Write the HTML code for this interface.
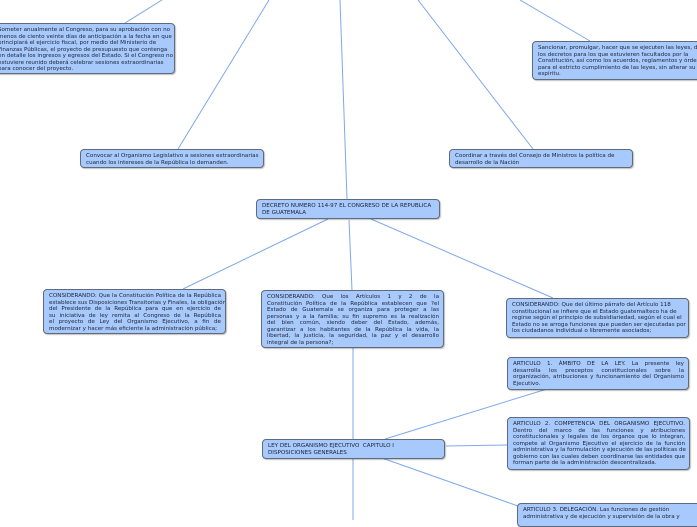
<!DOCTYPE html>
<html><head><meta charset="utf-8"><style>
body{margin:0;width:697px;height:520px;overflow:hidden;background:#fff;position:relative;font-family:"DejaVu Sans","Liberation Sans",sans-serif;}
.b{position:absolute;box-sizing:border-box;background:#a8c9fb;border:1px solid #5f6b7c;border-radius:4px;font-size:5.6px;line-height:6.5px;color:#1a2236;padding:3px 4px 2px 5px;overflow:hidden;box-shadow:1px 1px 1px rgba(0,0,0,0.25);white-space:nowrap;}
.b span{display:block;white-space:nowrap}
.j span{text-align:justify;text-align-last:justify}
.j span.l{text-align-last:left}
svg{position:absolute;left:0;top:0}
</style></head><body>
<svg width="697" height="520"><g stroke="#7ea8ea" stroke-width="1" fill="none">
<line x1="162" y1="0" x2="125" y2="23"/>
<line x1="269" y1="0" x2="178" y2="149"/>
<line x1="340" y1="0" x2="347" y2="199"/>
<line x1="418" y1="0" x2="533" y2="149"/>
<line x1="520" y1="0" x2="590" y2="41"/>
<line x1="328" y1="219" x2="183" y2="289"/>
<line x1="349" y1="220" x2="352" y2="290"/>
<line x1="371" y1="219" x2="553" y2="298"/>
<line x1="353" y1="347" x2="353" y2="439"/>
<line x1="385" y1="439" x2="547" y2="389"/>
<line x1="446" y1="446" x2="507" y2="445"/>
<line x1="382" y1="458" x2="518" y2="506"/>
<line x1="353" y1="458" x2="353" y2="520"/>
</g></svg>
<div class="b" style="left:-10px;top:23px;width:185px;height:51px;padding-left:7px"><span>Someter anualmente al Congreso, para su aprobación con no</span><span>menos de ciento veinte días de anticipación a la fecha en que</span><span>principiará el ejercicio fiscal, por medio del Ministerio de</span><span>Finanzas Públicas, el proyecto de presupuesto que contenga</span><span>en detalle los ingresos y egresos del Estado. Si el Congreso no</span><span>estuviere reunido deberá celebrar sesiones extraordinarias</span><span>para conocer del proyecto.</span></div>
<div class="b" style="left:80px;top:149px;width:184px;height:19px"><span>Convocar al Organismo Legislativo a sesiones extraordinarias</span><span>cuando los intereses de la República lo demanden.</span></div>
<div class="b" style="left:532px;top:41px;width:175px;height:39px"><span>Sancionar, promulgar, hacer que se ejecuten las leyes, dictar</span><span>los decretos para los que estuvieren facultados por la</span><span>Constitución, así como los acuerdos, reglamentos y órdenes</span><span>para el estricto cumplimiento de las leyes, sin alterar su</span><span>espíritu.</span></div>
<div class="b" style="left:449px;top:149px;width:184px;height:19px"><span>Coordinar a través del Consejo de Ministros la política de</span><span>desarrollo de la Nación</span></div>
<div class="b" style="left:256px;top:199px;width:184px;height:20px"><span>DECRETO NUMERO 114-97 EL CONGRESO DE LA REPUBLICA</span><span>DE GUATEMALA</span></div>
<div class="b j" style="left:43px;top:289px;width:183px;height:45px"><span>CONSIDERANDO: Que la Constitución Política de la República</span><span>establece sus Disposiciones Transitorias y Finales, la obligación</span><span>del Presidente de la República para que en ejercicio de</span><span>su iniciativa de ley remita al Congreso de la República</span><span>el proyecto de Ley del Organismo Ejecutivo, a fin de</span><span class="l">modernizar y hacer más eficiente la administración pública;</span></div>
<div class="b j" style="left:261px;top:290px;width:183px;height:58px"><span>CONSIDERANDO: Que los Artículos 1 y 2 de la</span><span>Constitución Política de la República establecen que ?el</span><span>Estado de Guatemala se organiza para proteger a las</span><span>personas y a la familia; su fin supremo es la realización</span><span>del bien común, siendo deber del Estado, además,</span><span>garantizar a los habitantes de la República la vida, la</span><span>libertad, la justicia, la seguridad, la paz y el desarrollo</span><span class="l">integral de la persona?;</span></div>
<div class="b" style="left:506px;top:298px;width:183px;height:40px"><span>CONSIDERANDO: Que del último párrafo del Artículo 118</span><span>constitucional se infiere que el Estado guatemalteco ha de</span><span>regirse según el principio de subsidiariedad, según el cual el</span><span>Estado no se arroga funciones que pueden ser ejecutadas por</span><span>los ciudadanos individual o libremente asociados;</span></div>
<div class="b j" style="left:507px;top:357px;width:182px;height:33px"><span>ARTICULO 1. ÁMBITO DE LA LEY. La presente ley</span><span>desarrolla los preceptos constitucionales sobre la</span><span>organización, atribuciones y funcionamiento del Organismo</span><span class="l">Ejecutivo.</span></div>
<div class="b" style="left:262px;top:439px;width:183px;height:20px"><span>LEY DEL ORGANISMO EJECUTIVO&nbsp; CAPITULO I</span><span>DISPOSICIONES GENERALES</span></div>
<div class="b j" style="left:507px;top:417px;width:183px;height:53px"><span>ARTICULO 2. COMPETENCIA DEL ORGANISMO EJECUTIVO.</span><span>Dentro del marco de las funciones y atribuciones</span><span>constitucionales y legales de los órganos que lo integran,</span><span>compete al Organismo Ejecutivo el ejercicio de la función</span><span>administrativa y la formulación y ejecución de las políticas de</span><span>gobierno con las cuales deben coordinarse las entidades que</span><span class="l">forman parte de la administración descentralizada.</span></div>
<div class="b" style="left:517px;top:503px;width:185px;height:24px"><span>ARTICULO 3. DELEGACIÓN. Las funciones de gestión</span><span>administrativa y de ejecución y supervisión de la obra y</span></div>
</body></html>
